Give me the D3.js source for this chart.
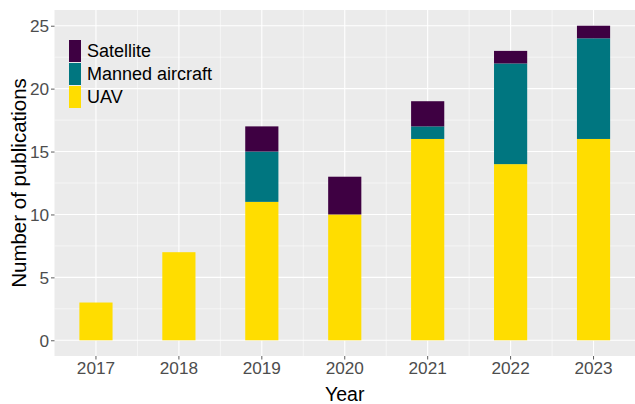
<!DOCTYPE html>
<html><head><meta charset="utf-8">
<script src="https://cdn.jsdelivr.net/npm/d3@7"></script>
<style>body{margin:0;background:#fff}svg{display:block}text{font-family:"Liberation Sans",Arial,sans-serif}</style>
</head><body><svg id="c" width="635" height="404"></svg>
<script>
const years = ["2017","2018","2019","2020","2021","2022","2023"];
const uav = [3,7,11,10,16,14,16];
const manned = [0,0,4,0,1,8,8];
const satellite = [0,0,2,3,2,1,1];
const yTicks = [0,5,10,15,20,25];
const seriesNames = ["UAV","Manned aircraft","Satellite"];
const colors = {"UAV":"#FFDD00","Manned aircraft":"#007680","Satellite":"#3E0042"};

const svg = d3.select("#c");
const m = {l:54.5, t:10, r:0, b:48};
const W = 635, H = 404;
const pw = W - m.l - m.r, ph = H - m.t - m.b;
const g = svg.append("g").attr("transform",`translate(${m.l},${m.t})`);

const x = d3.scaleBand().domain(years).range([0,pw]).padding(0);
const y = d3.scaleLinear().domain([-1.25,26.25]).range([ph,0]);

g.append("rect").attr("width",pw).attr("height",ph).attr("fill","#EBEBEB");
// minor grid
const yMinor = yTicks.slice(0,-1).map(v=>v+2.5);
g.selectAll(".ymin").data(yMinor).join("line").attr("x1",0).attr("x2",pw)
  .attr("y1",d=>y(d)).attr("y2",d=>y(d)).attr("stroke","#fff").attr("stroke-width",0.55);
g.selectAll(".xmin").data(years.slice(1)).join("line").attr("y1",0).attr("y2",ph)
  .attr("x1",d=>x(d)).attr("x2",d=>x(d)).attr("stroke","#fff").attr("stroke-width",0.55);
// major grid
g.selectAll(".ymaj").data(yTicks).join("line").attr("x1",0).attr("x2",pw)
  .attr("y1",d=>y(d)).attr("y2",d=>y(d)).attr("stroke","#fff").attr("stroke-width",1.1);
g.selectAll(".xmaj").data(years).join("line").attr("y1",0).attr("y2",ph)
  .attr("x1",d=>x(d)+x.bandwidth()/2).attr("x2",d=>x(d)+x.bandwidth()/2).attr("stroke","#fff").attr("stroke-width",1.1);

const table = years.map((yr,i)=>({year:yr,"UAV":uav[i],"Manned aircraft":manned[i],"Satellite":satellite[i]}));
const stack = d3.stack().keys(seriesNames)(table);
const bw = x.bandwidth()*0.4;
g.selectAll(".s").data(stack).join("g").attr("fill",d=>colors[d.key])
  .selectAll("rect").data(d=>d).join("rect")
  .attr("x",d=>x(d.data.year)+x.bandwidth()/2-bw/2).attr("width",bw)
  .attr("y",d=>y(d[1])).attr("height",d=>y(d[0])-y(d[1]));

// axes
const ya = g.append("g").call(d3.axisLeft(y).tickValues(yTicks).tickSize(3.5).tickPadding(2));
const xa = g.append("g").attr("transform",`translate(0,${ph})`).call(d3.axisBottom(x).tickSize(3.5).tickPadding(2.5));
[ya,xa].forEach(a=>{a.select(".domain").remove();a.selectAll("line").attr("stroke","#333").attr("stroke-width",0.8);
  a.selectAll("text").attr("fill","#4D4D4D").attr("font-size","17.2px").attr("font-family","Liberation Sans, Arial, sans-serif");});
ya.selectAll("text").attr("dy","0.36em");

svg.append("text").attr("x",m.l+pw/2).attr("y",400.5).attr("text-anchor","middle").attr("font-size","19.5px").attr("fill","#000").text("Year");
svg.append("text").attr("transform",`translate(25.5,${m.t+ph/2}) rotate(-90)`).attr("text-anchor","middle").attr("font-size","20.5px").attr("fill","#000").text("Number of publications");

// legend
const legOrder = ["Satellite","Manned aircraft","UAV"];
const lg = svg.append("g").attr("transform","translate(69,40)");
legOrder.forEach((k,i)=>{
  lg.append("rect").attr("x",0).attr("y",i*23).attr("width",12).attr("height",22).attr("fill",colors[k]);
  lg.append("text").attr("x",18).attr("y",i*23+17).attr("font-size","18px").attr("fill","#000").text(k);
});
</script></body></html>
